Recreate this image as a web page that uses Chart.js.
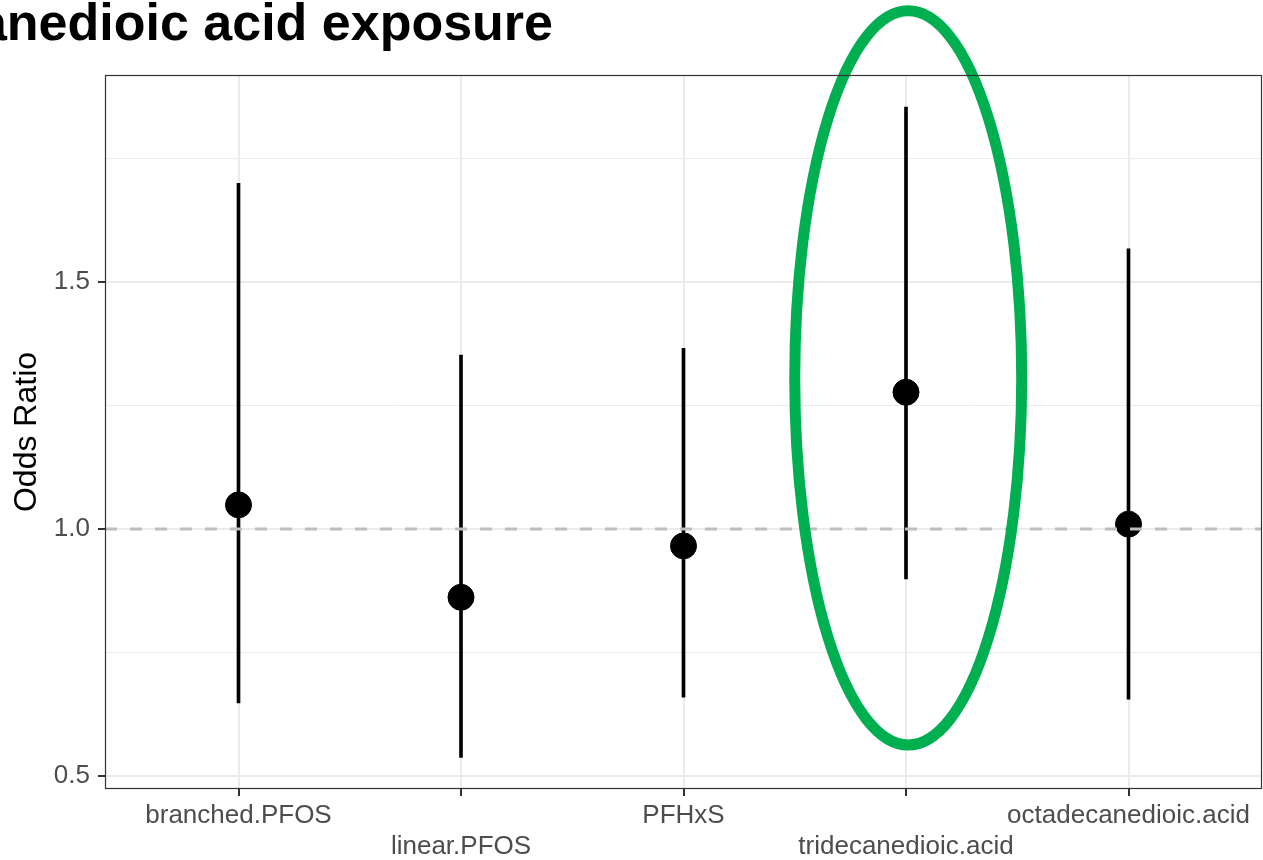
<!DOCTYPE html>
<html>
<head>
<meta charset="utf-8">
<script src="https://cdn.jsdelivr.net/npm/chart.js@4.4.0/dist/chart.umd.min.js"></script>
<style>
  html, body { margin: 0; padding: 0; background: #fff; }
</style>
</head>
<body>
<canvas id="orChart" width="1263" height="860"></canvas>
<script>
var exposures = ['branched.PFOS', 'linear.PFOS', 'PFHxS', 'tridecanedioic.acid', 'octadecanedioic.acid'];
var oddsRatio = [1.049, 0.862, 0.966, 1.277, 1.010];
var ciLower = [0.648, 0.538, 0.660, 0.899, 0.656];
var ciUpper = [1.700, 1.352, 1.366, 1.854, 1.567];
var yTicks = [0.5, 0.75, 1.0, 1.25, 1.5, 1.75];
var refLine = 1;
var highlight = 'tridecanedioic.acid';
var titleText = 'anedioic acid exposure';

var FONT = '"Liberation Sans", Arial, Helvetica, sans-serif';
function isMajor(v) { return Math.abs(v * 2 - Math.round(v * 2)) < 1e-6; }

// green ring + panel border + (cropped) title
var decorations = {
    id: 'decorations',
    afterDatasetsDraw: function(chart) {
        var ctx = chart.ctx, xs = chart.scales.x, ys = chart.scales.y;
        var k = exposures.indexOf(highlight) + 1;
        var cx = xs.getPixelForValue(k + 0.01);
        var cy = ys.getPixelForValue(1.306);
        var rx = xs.getPixelForValue(k + 0.52) - cx;
        var ry = ys.getPixelForValue(1.306 - 0.743) - cy;
        ctx.save();
        ctx.beginPath();
        ctx.ellipse(cx, cy, rx, ry, 0, 0, Math.PI * 2);
        ctx.lineWidth = 11;
        ctx.strokeStyle = '#00B050';
        ctx.stroke();
        ctx.restore();
    },
    afterDraw: function(chart) {
        var ctx = chart.ctx, a = chart.chartArea;
        ctx.save();
        ctx.strokeStyle = '#333333';
        ctx.lineWidth = 1.2;
        ctx.strokeRect(a.left + 0.5, a.top + 0.5, a.right - a.left - 1, a.bottom - a.top - 1);
        ctx.fillStyle = '#000';
        ctx.font = 'bold 52px ' + FONT;
        ctx.textAlign = 'right';
        ctx.textBaseline = 'alphabetic';
        ctx.fillText(titleText, 553, 40);
        ctx.restore();
    }
};

var canvasElement = document.getElementById('orChart');
var configure = {
    type: 'bar',
    data: {
        datasets: [{
            type: 'line',
            data: [{ x: 0.4, y: refLine }, { x: 5.6, y: refLine }],
            borderColor: '#BEBEBE',
            borderWidth: 3,
            borderDash: [12, 13],
            pointRadius: 0,
            order: 0
        }, {
            type: 'bar',
            data: exposures.map(function(e, i) { return { x: i + 1, y: [ciLower[i], ciUpper[i]] }; }),
            backgroundColor: '#000',
            barThickness: 3,
            order: 2
        }, {
            type: 'scatter',
            data: exposures.map(function(e, i) { return { x: i + 1, y: oddsRatio[i] }; }),
            backgroundColor: '#000',
            borderColor: '#000',
            pointRadius: 13,
            order: 1
        }]
    },
    options: {
        responsive: false,
        animation: false,
        devicePixelRatio: 1,
        layout: { autoPadding: false, padding: { top: 75, right: 1, left: 0, bottom: 0 } },
        plugins: { legend: { display: false }, tooltip: { enabled: false } },
        scales: {
            x: {
                type: 'linear',
                min: 0.4,
                max: 5.6,
                offset: false,
                afterBuildTicks: function(scale) {
                    scale.ticks = exposures.map(function(e, i) { return { value: i + 1 }; });
                },
                afterFit: function(scale) {
                    scale.height = 71;
                    scale.paddingLeft = 0;
                    scale.paddingRight = 0;
                },
                grid: { offset: false, color: '#EBEBEB', lineWidth: 2, tickColor: '#333333', tickLength: 7 },
                border: { display: false },
                ticks: {
                    autoSkip: false,
                    maxRotation: 0,
                    padding: 5,
                    color: '#4D4D4D',
                    font: { family: FONT, size: 26, lineHeight: 1.17 },
                    callback: function(v, i) { return i % 2 ? ['', exposures[i]] : exposures[i]; }
                }
            },
            y: {
                type: 'linear',
                min: 0.474,
                max: 1.919,
                afterBuildTicks: function(scale) {
                    scale.ticks = yTicks.map(function(v) { return { value: v }; });
                },
                afterFit: function(scale) {
                    scale.width = 105;
                    scale.paddingTop = 0;
                    scale.paddingBottom = 0;
                },
                grid: {
                    color: '#EBEBEB',
                    lineWidth: function(c) { return c.tick && isMajor(c.tick.value) ? 2 : 1; },
                    tickColor: function(c) { return c.tick && isMajor(c.tick.value) ? '#333333' : 'rgba(0,0,0,0)'; },
                    tickLength: 7
                },
                border: { display: false },
                ticks: {
                    padding: 8,
                    color: '#4D4D4D',
                    font: { family: FONT, size: 26 },
                    callback: function(v) { return isMajor(v) ? v.toFixed(1) : ''; }
                },
                title: {
                    display: true,
                    text: 'Odds Ratio',
                    color: '#000',
                    padding: { top: 8, bottom: 0 },
                    font: { family: FONT, size: 32 }
                }
            }
        }
    },
    plugins: [decorations]
};

var reportChart = new Chart(canvasElement, configure);
</script>
</body>
</html>
